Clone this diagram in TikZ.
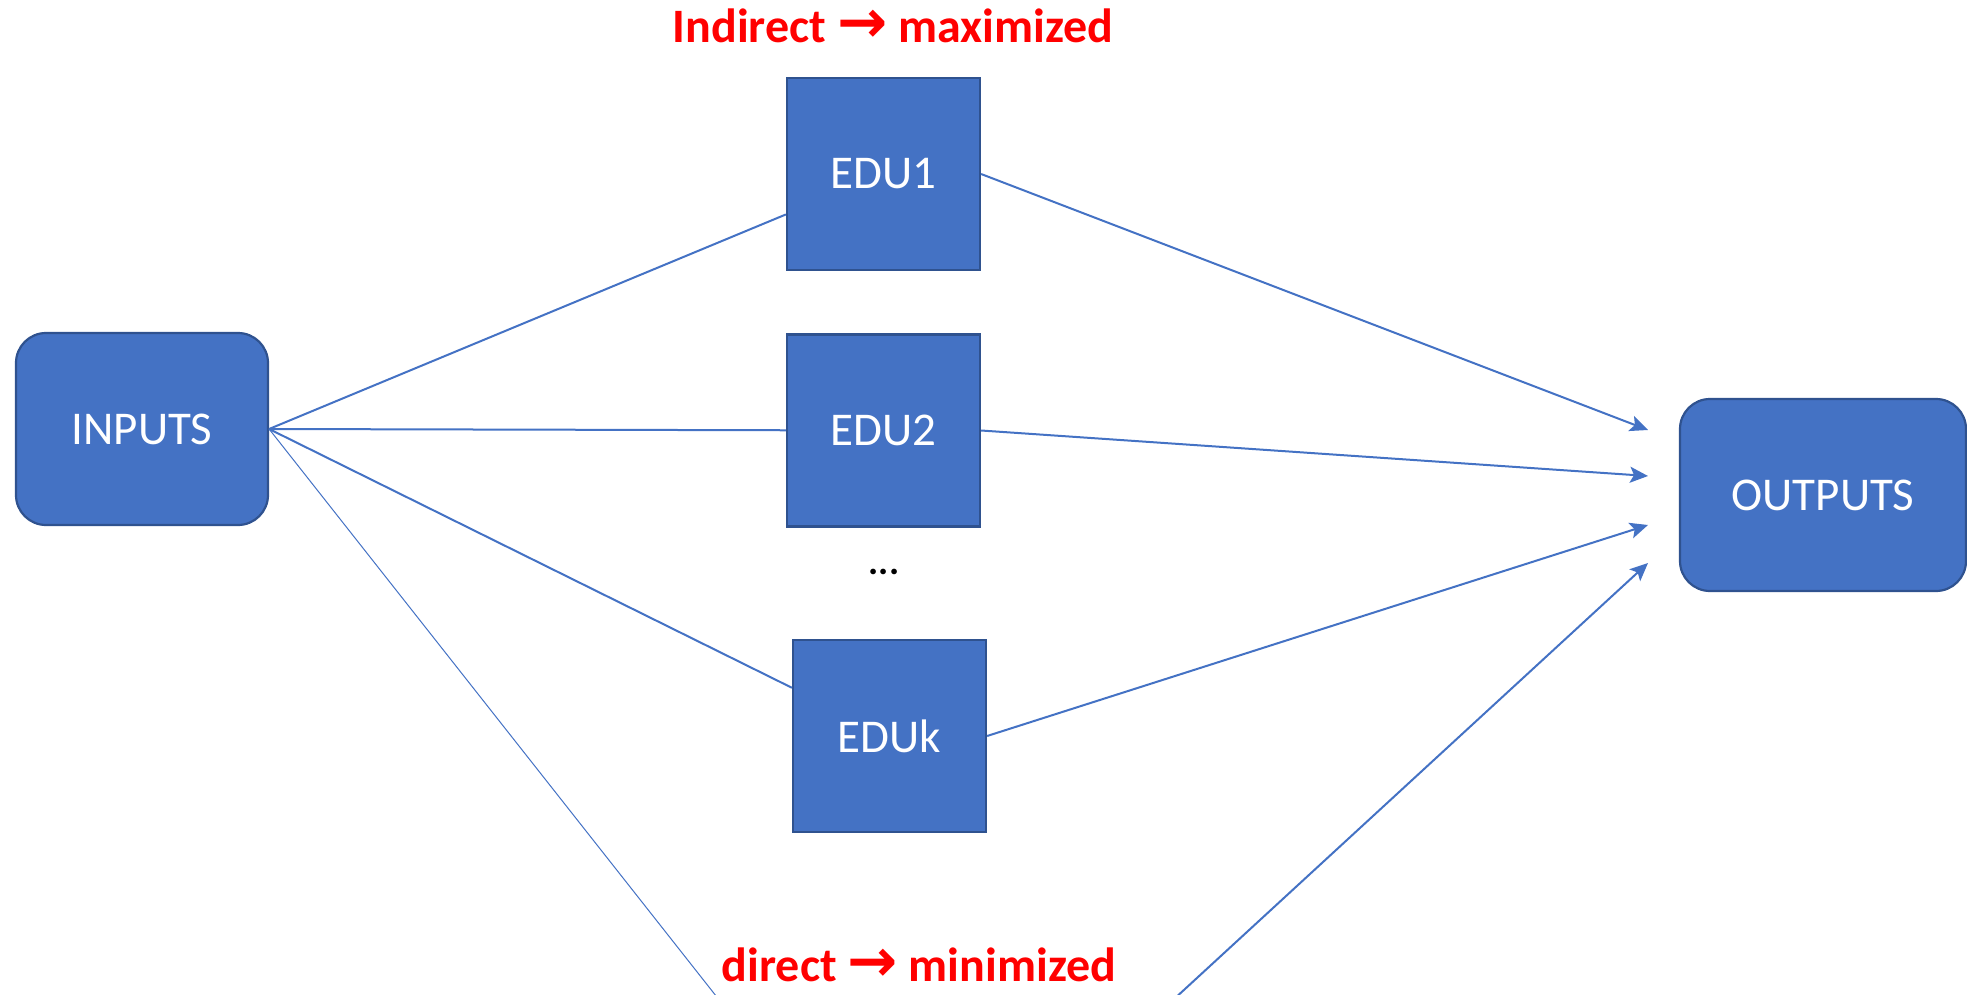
\documentclass[tikz,border=0pt]{standalone}
\usepackage{fontspec}
\setmainfont{Carlito}
\newfontfamily\arrowfont{DejaVu Sans}
\usepackage{tikz}
\usetikzlibrary{arrows.meta,positioning}
\definecolor{boxblue}{RGB}{68,114,196}
\definecolor{boxline}{RGB}{47,82,143}
\definecolor{notered}{RGB}{255,0,0}

\begin{document}
\begin{tikzpicture}[x=0.5pt,y=0.5pt,yscale=-1,xscale=1,
  block/.style={draw=boxline,fill=boxblue,line width=1.1pt,text=white,inner sep=0pt,
    font=\fontsize{23.5}{28}\selectfont},
  edubox/.style={block,minimum width=96.5pt,minimum height=96pt},
  endbox/.style={block,rounded corners=15pt,minimum height=96pt},
  link/.style={draw=boxblue,line width=1pt},
  flow/.style={link,-{Stealth[length=9pt,width=8pt,inset=2pt]}},
  note/.style={text=notered,inner sep=0pt,font=\fontsize{24}{29}\selectfont\bfseries}]
\useasboundingbox (0,0) rectangle (1967,995);
\clip (0,0) rectangle (1967,995);

%Shape: Rounded Rectangle
\node[endbox,minimum width=126pt] (inputs) at (142,429) {INPUTS};
%Shape: Rectangle
\node[edubox] (edu1) at (883.5,174) {EDU1};
%Shape: Rectangle
\node[edubox] (edu2) at (883.5,430.5) {EDU2};
%Shape: Rectangle
\node[edubox] (eduk) at (889.5,736) {EDUk};
%Shape: Rounded Rectangle
\node[endbox,minimum width=143pt] (outputs) at (1823,495) {OUTPUTS};

% Text Node
\node[font=\fontsize{19}{23}\selectfont\bfseries] (dots) at (884,572) {...};
% Text Node
\node[note,anchor=base] (indirect) at (893,43) {Indirect {\arrowfont\fontsize{30}{30}\selectfont →} maximized};
% Text Node
\node[note,anchor=base] (direct) at (919,981) {direct {\arrowfont\fontsize{30}{30}\selectfont →} minimized};

% arrow ends in front of OUTPUTS
\coordinate (in1) at (1648,430);
\coordinate (in2) at (1648,476);
\coordinate (in3) at (1648,525);
\coordinate (in4) at (1648,563);
% direct path turns below the page
\coordinate (low) at (910,1242);

% Connection
\draw[link] (inputs.east) -- (edu1);
\draw[link] (inputs.east) -- (edu2);
\draw[link] (inputs.east) -- (eduk);
\draw[link,line width=0.5pt] (inputs.east) -- (low);
% Connection
\draw[flow] (edu1.east) -- (in1);
\draw[flow] (edu2.east) -- (in2);
\draw[flow] (eduk.east) -- (in3);
\draw[flow] (low) -- (in4);

\end{tikzpicture}
\end{document}
